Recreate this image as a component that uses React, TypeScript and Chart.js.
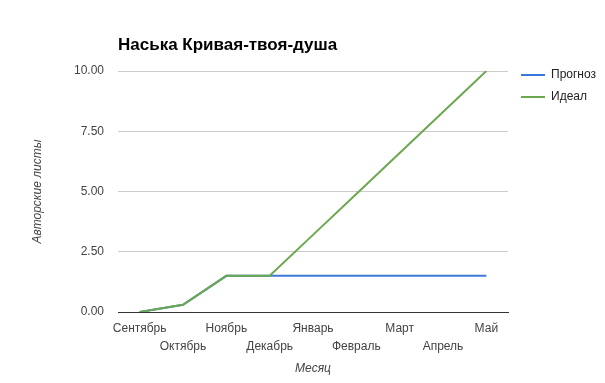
import React, { useEffect, useRef } from "react";
import { Chart, registerables } from "chart.js";

Chart.register(...registerables);

const chartTitle = "Наська Кривая-твоя-душа";
const months = ["Сентябрь", "Октябрь", "Ноябрь", "Декабрь", "Январь", "Февраль", "Март", "Апрель", "Май"];
const prognoz = [0, 0.3, 1.5, 1.5, 1.5, 1.5, 1.5, 1.5, 1.5];
const ideal = [0, 0.3, 1.5, 1.5, 3.2, 4.9, 6.6, 8.3, 10];
const yTicks = [0, 2.5, 5, 7.5, 10];
const seriesNames = ["Прогноз", "Идеал"];
const yAxisTitle = "Авторские листы";
const xAxisTitle = "Месяц";

const FONT = "'Liberation Sans', Arial, sans-serif";
const BLUE = "#3c78d8";
const GREEN = "#6aa84f";

const overlay = {
  id: "overlay",
  afterDraw(chart: any) {
    const ctx = chart.ctx;
    ctx.save();
    ctx.fillStyle = "#000";
    ctx.font = `bold 17px ${FONT}`;
    ctx.textAlign = "left";
    ctx.textBaseline = "middle";
    ctx.fillText(chartTitle, 118, 45);
    const items = [
      { label: seriesNames[0], color: BLUE },
      { label: seriesNames[1], color: GREEN },
    ];
    ctx.font = `12px ${FONT}`;
    items.forEach((it, i) => {
      const y = 75 + i * 22;
      ctx.strokeStyle = it.color;
      ctx.lineWidth = 2;
      ctx.beginPath();
      ctx.moveTo(521, y);
      ctx.lineTo(545, y);
      ctx.stroke();
      ctx.fillStyle = "#222";
      ctx.fillText(it.label, 551, y);
    });
    ctx.restore();
  },
};

export default function App() {
  const ref = useRef<HTMLCanvasElement | null>(null);
  useEffect(() => {
    document.body.style.margin = "0";
    const canvas = ref.current!;
    const chart = new Chart(canvas, {
      type: "line",
      data: {
        labels: months.map((m, i) => (i % 2 ? ["", m] : [m])),
        datasets: [
          {
            label: seriesNames[0],
            data: prognoz,
            borderColor: BLUE,
            backgroundColor: BLUE,
            borderWidth: 2,
            pointRadius: 0,
            tension: 0,
            order: 1,
          },
          {
            label: seriesNames[1],
            data: ideal,
            borderColor: GREEN,
            backgroundColor: GREEN,
            borderWidth: 2,
            pointRadius: 0,
            tension: 0,
            order: 0,
          },
        ],
      },
      options: {
        animation: false,
        responsive: false,
        maintainAspectRatio: false,
        layout: { padding: { top: 71, right: 97, left: 0, bottom: 0 } },
        plugins: {
          legend: { display: false },
          title: { display: false },
          tooltip: { enabled: false },
        },
        scales: {
          x: {
            type: "category",
            offset: true,
            grid: { display: false, drawTicks: false },
            border: { display: true, color: "#333", width: 1 },
            ticks: {
              autoSkip: false,
              maxRotation: 0,
              minRotation: 0,
              padding: 8,
              color: "#444",
              font: { family: FONT, size: 12, lineHeight: 1.5 },
            },
            title: {
              display: true,
              text: xAxisTitle,
              color: "#444",
              font: { family: FONT, size: 12, style: "italic" },
              padding: { top: 0, bottom: 7 },
            },
            afterFit: (s: any) => {
              s.height = 71;
            },
          },
          y: {
            min: 0,
            max: 10,
            afterBuildTicks: (s: any) => {
              s.ticks = yTicks.map((v) => ({ value: v }));
            },
            grid: { color: "#cccccc", drawTicks: false },
            border: { display: false },
            ticks: {
              padding: 14,
              color: "#444",
              font: { family: FONT, size: 12 },
              callback: (v: any) => Number(v).toFixed(2),
            },
            title: {
              display: true,
              text: yAxisTitle,
              color: "#444",
              font: { family: FONT, size: 12, style: "italic" },
              padding: { top: 30, bottom: 0 },
            },
            afterFit: (s: any) => {
              s.width = 118;
            },
          },
        },
      },
      plugins: [overlay],
    });
    return () => chart.destroy();
  }, []);
  return (
    <div style={{ position: "absolute", left: 0, top: 0, width: 605, height: 383, background: "#fff" }}>
      <canvas ref={ref} width={605} height={383} style={{ width: 605, height: 383 }} />
    </div>
  );
}
